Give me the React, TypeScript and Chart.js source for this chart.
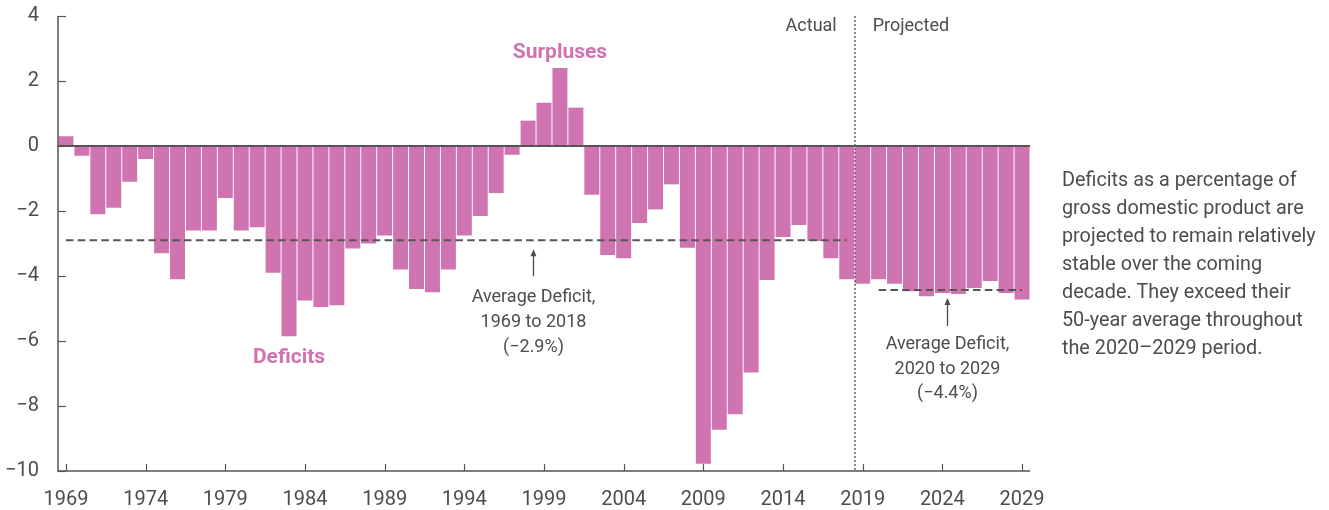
import React, { useEffect, useRef } from "react";
import { Chart, registerables } from "chart.js";

Chart.register(...registerables);

const years: string[] = [
  "1969","1970","1971","1972","1973","1974","1975","1976","1977","1978",
  "1979","1980","1981","1982","1983","1984","1985","1986","1987","1988",
  "1989","1990","1991","1992","1993","1994","1995","1996","1997","1998",
  "1999","2000","2001","2002","2003","2004","2005","2006","2007","2008",
  "2009","2010","2011","2012","2013","2014","2015","2016","2017","2018",
  "2019","2020","2021","2022","2023","2024","2025","2026","2027","2028","2029",
];

const deficitPct: number[] = [
  0.3, -0.3, -2.1, -1.9, -1.1, -0.4, -3.3, -4.1, -2.6, -2.6,
  -1.6, -2.6, -2.5, -3.9, -5.85, -4.75, -4.95, -4.9, -3.15, -3.0,
  -2.75, -3.8, -4.4, -4.5, -3.8, -2.75, -2.15, -1.45, -0.27, 0.78,
  1.33, 2.4, 1.18, -1.5, -3.35, -3.45, -2.37, -1.95, -1.18, -3.13,
  -9.78, -8.73, -8.25, -6.97, -4.12, -2.8, -2.43, -2.92, -3.45, -4.1,
  -4.24, -4.1, -4.24, -4.47, -4.62, -4.52, -4.55, -4.37, -4.15, -4.52, -4.72,
];

const xTickLabels: string[] = [
  "1969","1974","1979","1984","1989","1994","1999","2004","2009","2014","2019","2024","2029",
];
const yTickValues: number[] = [4, 2, 0, -2, -4, -6, -8, -10];

const avgPast = -2.9;
const avgPastFrom = "1969";
const avgPastTo = "2018";
const avgFuture = -4.43;
const avgFutureFrom = "2020";
const avgFutureTo = "2029";
const lastActualYear = "2018";

const avgPastText = ["Average Deficit,", "1969 to 2018", "(\u22122.9%)"];
const avgFutureText = ["Average Deficit,", "2020 to 2029", "(\u22124.4%)"];
const sideText = [
  "Deficits as a percentage of",
  "gross domestic product are",
  "projected to remain relatively",
  "stable over the coming",
  "decade. They exceed their",
  "50-year average throughout",
  "the 2020\u20132029 period.",
];

const PINK = "rgb(207,116,177)";
const TEXT = "#4d4d4d";
const AXIS = "#555555";
const FONT = "Roboto, 'Open Sans', sans-serif";

function rangeSeries(value: number, from: string, to: string): (number | null)[] {
  const a = years.indexOf(from);
  const b = years.indexOf(to);
  return years.map((_, i) => (i >= a && i <= b ? value : null));
}

const annotationPlugin = {
  id: "cboAnnotations",
  afterDatasetsDraw(chart: any) {
    const { ctx, chartArea, scales } = chart;
    const x = scales.x;
    const y = scales.y;
    const L = chartArea.left;
    const R = chartArea.right;
    const T = chartArea.top;
    const B = chartArea.bottom;
    ctx.save();

    // zero line
    const y0 = Math.round(y.getPixelForValue(0));
    ctx.strokeStyle = AXIS;
    ctx.lineWidth = 2;
    ctx.beginPath();
    ctx.moveTo(L, y0);
    ctx.lineTo(R, y0);
    ctx.stroke();

    // axes
    ctx.lineWidth = 1.5;
    ctx.strokeStyle = AXIS;
    ctx.beginPath();
    ctx.moveTo(L, T);
    ctx.lineTo(L, B);
    ctx.lineTo(R, B);
    ctx.stroke();

    // y ticks (inward)
    ctx.lineWidth = 1.2;
    yTickValues.forEach((v) => {
      const py = Math.round(y.getPixelForValue(v)) + 0.5;
      ctx.beginPath();
      ctx.moveTo(L, py);
      ctx.lineTo(L + 8, py);
      ctx.stroke();
    });
    // x ticks (inward)
    xTickLabels.forEach((lab) => {
      const px = Math.round(x.getPixelForValue(years.indexOf(lab))) + 0.5;
      ctx.beginPath();
      ctx.moveTo(px, B);
      ctx.lineTo(px, B - 7);
      ctx.stroke();
    });

    // actual / projected divider
    const iA = years.indexOf(lastActualYear);
    const xd = (x.getPixelForValue(iA) + x.getPixelForValue(iA + 1)) / 2;
    ctx.strokeStyle = "#666666";
    ctx.lineWidth = 1.5;
    ctx.setLineDash([2, 2]);
    ctx.beginPath();
    ctx.moveTo(Math.round(xd), T);
    ctx.lineTo(Math.round(xd), B);
    ctx.stroke();
    ctx.setLineDash([]);

    ctx.fillStyle = TEXT;
    ctx.font = `18px ${FONT}`;
    ctx.textBaseline = "middle";
    ctx.textAlign = "right";
    ctx.fillText("Actual", xd - 18, T + 10.5);
    ctx.textAlign = "left";
    ctx.fillText("Projected", xd + 18, T + 10.5);

    // Surpluses / Deficits
    ctx.fillStyle = PINK;
    ctx.font = `bold 21px ${FONT}`;
    ctx.textAlign = "center";
    ctx.fillText("Surpluses", x.getPixelForValue(years.indexOf("2000")), y.getPixelForValue(2.87));
    ctx.fillText("Deficits", x.getPixelForValue(years.indexOf("1983")), y.getPixelForValue(-6.53));

    // arrows and labels
    const drawArrow = (px: number, tipY: number, tailY: number) => {
      ctx.strokeStyle = TEXT;
      ctx.fillStyle = TEXT;
      ctx.lineWidth = 1.3;
      ctx.beginPath();
      ctx.moveTo(px, tailY);
      ctx.lineTo(px, tipY + 4);
      ctx.stroke();
      ctx.beginPath();
      ctx.moveTo(px, tipY);
      ctx.lineTo(px - 3, tipY + 7);
      ctx.lineTo(px + 3, tipY + 7);
      ctx.closePath();
      ctx.fill();
    };
    const drawLines = (lines: string[], cx: number, firstY: number, lh: number, align: string, size: number) => {
      ctx.fillStyle = TEXT;
      ctx.font = `${size}px ${FONT}`;
      ctx.textAlign = align;
      ctx.textBaseline = "middle";
      lines.forEach((s, i) => ctx.fillText(s, cx, firstY + i * lh));
    };

    const a1x = 533.5;
    const a1y = y.getPixelForValue(avgPast);
    drawArrow(a1x, a1y + 9, a1y + 36);
    drawLines(avgPastText, a1x, a1y + 57, 25, "center", 18);

    const a2x = 947.5;
    const a2y = y.getPixelForValue(avgFuture);
    drawArrow(a2x, a2y + 8, a2y + 36);
    drawLines(avgFutureText, a2x, a2y + 55, 24.5, "center", 18);

    drawLines(sideText, 1062, 181, 28, "left", 19.8);

    ctx.restore();
  },
};

export default function App() {
  const ref = useRef<HTMLCanvasElement | null>(null);
  useEffect(() => {
    if (!ref.current) return;
    const chart = new Chart(ref.current, {
      type: "bar",
      data: {
        labels: years,
        datasets: [
          {
            type: "bar",
            label: "Deficit",
            data: deficitPct,
            backgroundColor: PINK,
            barPercentage: 0.94,
            categoryPercentage: 1,
            order: 2,
          },
          {
            type: "line",
            label: "Average 1969-2018",
            data: rangeSeries(avgPast, avgPastFrom, avgPastTo),
            borderColor: AXIS,
            borderWidth: 2,
            borderDash: [7.5, 4.3],
            pointRadius: 0,
            spanGaps: false,
            fill: false,
            order: 1,
          },
          {
            type: "line",
            label: "Average 2020-2029",
            data: rangeSeries(avgFuture, avgFutureFrom, avgFutureTo),
            borderColor: AXIS,
            borderWidth: 2,
            borderDash: [7.5, 4.3],
            pointRadius: 0,
            spanGaps: false,
            fill: false,
            order: 1,
          },
        ] as any,
      },
      options: {
        responsive: false,
        animation: false,
        layout: { padding: { left: 0, right: 299, top: 16, bottom: 0 } },
        plugins: { legend: { display: false }, tooltip: { enabled: false } },
        scales: {
          x: {
            type: "category",
            grid: { display: false, drawTicks: false },
            border: { display: false },
            afterFit: (s: any) => { s.height = 39; s.paddingLeft = 0; s.paddingRight = 0; },
            ticks: {
              autoSkip: false,
              maxRotation: 0,
              minRotation: 0,
              padding: 17,
              color: TEXT,
              font: { family: FONT, size: 20 },
              callback: (_v: any, i: number) => (xTickLabels.includes(years[i]) ? years[i] : ""),
            },
          },
          y: {
            min: -10,
            max: 4,
            grid: { display: false, drawTicks: false },
            border: { display: false },
            afterFit: (s: any) => { s.width = 58; s.paddingTop = 0; s.paddingBottom = 0; },
            ticks: {
              stepSize: 2,
              padding: 19,
              color: TEXT,
              font: { family: FONT, size: 20 },
              callback: (v: any) => (v < 0 ? "\u2212" + Math.abs(v) : String(v)),
            },
          },
        },
      } as any,
      plugins: [annotationPlugin],
    });
    return () => chart.destroy();
  }, []);
  return (
    <div style={{ position: "absolute", left: 0, top: 0, width: 1329, height: 510 }}>
      <canvas ref={ref} width={1329} height={510} style={{ display: "block" }} />
    </div>
  );
}
